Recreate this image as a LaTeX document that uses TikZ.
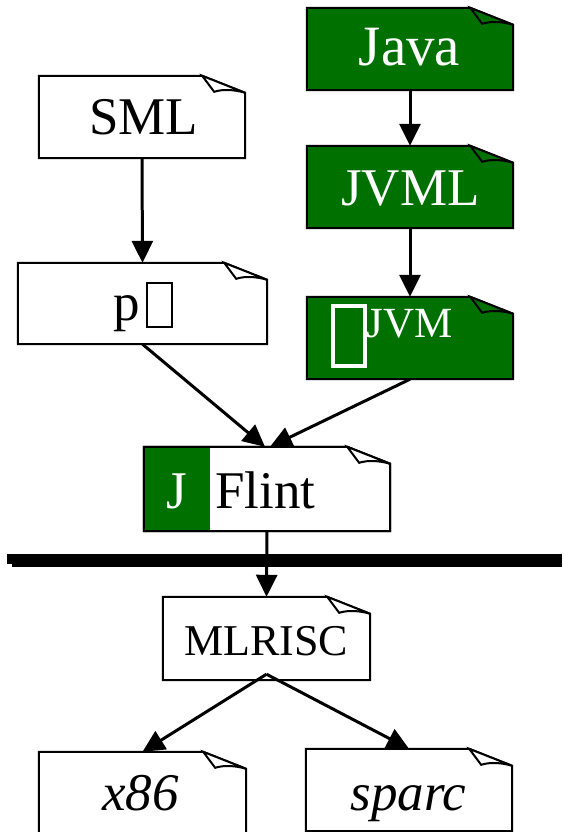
\documentclass[tikz,border=0pt]{standalone}
\usepackage{fontspec}
\setmainfont{Liberation Serif}
\usetikzlibrary{arrows.meta}
\definecolor{jgreen}{RGB}{0,112,0}
\tikzset{
  boxnode/.style={rectangle, draw=none, inner sep=0pt},
  noteline/.style={draw=black, line width=2pt, line join=miter},
  edge/.style={line width=3pt, -{Triangle[length=22pt,width=21pt]}},
  lbl/.style={anchor=base, inner sep=0pt},
  big/.style={font=\fontsize{53}{60}\selectfont},
}
\newcommand{\tofubox}[3]{{\setlength{\fboxsep}{0pt}\setlength{\fboxrule}{#3}\fbox{\rule{0pt}{#2}\hspace*{#1}}}}
\newcommand{\notepath}[2]{%
  \path[noteline, #2] (#1.north west) -- ([xshift=-43pt]#1.north east) -- ([yshift=-17pt]#1.north east) -- (#1.south east) -- (#1.south west) -- cycle;}
\newcommand{\notefold}[2]{%
  \path[noteline, fill=#2] ([xshift=-43pt]#1.north east) -- ([xshift=-31pt,yshift=-16pt]#1.north east) .. controls ([xshift=-22pt,yshift=-13pt]#1.north east) and ([xshift=-10pt,yshift=-14pt]#1.north east) .. ([yshift=-17pt]#1.north east) -- cycle;}
\newcommand{\notebox}[6]{%
  \node[boxnode, minimum width=#4pt, minimum height=#5pt] (#1) at (#2,#3) {};
  \notepath{#1}{fill=#6}
  \notefold{#1}{#6}}
\begin{document}
\begin{tikzpicture}[x=1pt,y=-1pt]
\fill[white] (0,0) rectangle (564,832);
\useasboundingbox (0,0) rectangle (564,832);
\clip (0,0) rectangle (564,832);
% boxes
\notebox{java}{410}{49}{206}{82}{jgreen}
\notebox{jvml}{410}{187}{206}{82}{jgreen}
\notebox{lj}{410}{338}{206}{82}{jgreen}
\notebox{sml}{142}{117}{206}{82}{white}
\notebox{pl}{142.5}{303.5}{249}{81}{white}
\node[boxnode, minimum width=246pt, minimum height=84pt] (flint) at (267,489) {};
\notepath{flint}{fill=white}
\fill[jgreen] (flint.north west) rectangle ([xshift=66pt]flint.south west);
\notepath{flint}{}
\notefold{flint}{white}
\notebox{mlrisc}{266.5}{638.5}{207}{83}{white}
\notebox{x86}{142.5}{793}{207}{82}{white}
\notebox{sparc}{409}{790}{206}{82}{white}
% separator
\fill (7,554) rectangle (562,564);
\fill (12,557) rectangle (562,567);
% labels
\node[lbl, text=white, font=\fontsize{57}{60}\selectfont] (javaT) at (409.5,66) {Java};
\node[lbl, text=white, big] (jvmlT) at (410.5,205) {JVML};
\node[lbl, big] (smlT) at (143.5,135) {SML};
\node[lbl, big] (plT) at (143,320) {p\hspace{6pt}\raisebox{-6pt}{\tofubox{23pt}{42pt}{2pt}}};
\node[lbl, text=white] (ljT) at (392,337) {\raisebox{-27pt}{\tofubox{28pt}{56pt}{4pt}}\fontsize{43}{50}\selectfont JVM};
\node[lbl, text=white, big] (jT) at (176.5,508) {J};
\node[lbl, big] (flintT) at (265.5,508) {Flint};
\node[lbl, font=\fontsize{44}{50}\selectfont] (mlriscT) at (266,655) {MLRISC};
\node[lbl, big] (x86T) at (140.5,810) {\itshape x86};
\node[lbl, big] (sparcT) at (408.5,810) {\itshape sparc};
% edges
\draw[edge] (sml.south) -- (pl.north);
\draw[edge] (java.south) -- (jvml.north);
\draw[edge] (jvml.south) -- (lj.north);
\draw[edge] (pl.south) -- ([xshift=-2pt]flint.north);
\draw[edge] (lj.south) -- ([xshift=3pt]flint.north);
\draw[edge] (flint.south) -- (mlrisc.north);
\draw[edge] ([yshift=6pt]mlrisc.south) -- (x86.north);
\draw[edge] ([yshift=6pt]mlrisc.south) -- (sparc.north);
\end{tikzpicture}
\end{document}
